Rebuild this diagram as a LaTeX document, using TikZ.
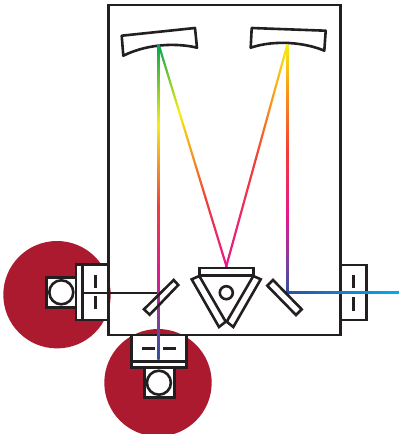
\documentclass[tikz,border=0pt]{standalone}
\definecolor{ink}{HTML}{231F20}
\definecolor{lampred}{HTML}{AC1A2F}
\pgfdeclareverticalshading{rayA}{2.2pt}{
  rgb(0pt)=(0.18,0.31,0.64); rgb(39pt)=(0.5,0.25,0.6); rgb(89pt)=(0.9,0.09,0.55);
  rgb(154pt)=(0.94,0.25,0.21); rgb(234pt)=(0.97,0.93,0.07); rgb(315pt)=(0,0.65,0.32)}
\pgfdeclareverticalshading{rayB}{2.2pt}{
  rgb(0pt)=(0.9,0.09,0.55); rgb(73pt)=(0.94,0.25,0.21);
  rgb(163pt)=(0.97,0.93,0.07); rgb(234pt)=(0,0.65,0.32)}
\pgfdeclareverticalshading{rayC}{2.2pt}{
  rgb(0pt)=(0.9,0.09,0.55); rgb(112pt)=(0.94,0.25,0.21); rgb(170pt)=(0.97,0.58,0.11);
  rgb(232pt)=(0.97,0.93,0.07)}
\pgfdeclareverticalshading{rayD}{2.2pt}{
  rgb(0pt)=(0.18,0.31,0.64); rgb(31pt)=(0.5,0.25,0.6); rgb(78pt)=(0.9,0.09,0.55);
  rgb(143pt)=(0.94,0.25,0.21); rgb(200pt)=(0.97,0.58,0.11); rgb(249pt)=(0.97,0.93,0.07)}
\pgfdeclareverticalshading{rayE}{2.2pt}{
  rgb(0pt)=(0,0.68,0.94); rgb(112pt)=(0.18,0.31,0.64)}
\tikzset{
  part/.style={draw=ink,line width=2.6pt,line join=miter},
  boxpart/.style={part,fill=white},
  slit/.style={draw=ink,line width=2.6pt},
  lamp/.style={fill=lampred},
  ray/.style={inner sep=0pt,outer sep=0pt,anchor=north}
}
\begin{document}
\begin{tikzpicture}[x=1pt,y=-1pt]
\useasboundingbox (0,0) rectangle (399,434);
\clip (0,0) rectangle (399,434);
% lamps
\fill[lamp] (57,294.7) circle (53.7);
\fill[lamp] (158,382.7) circle (53.7);
% housing
\draw[part] (108.5,5) rectangle (340.7,335);
% mirrors
\draw[part,line join=round] (121.7,35.7) -- (195,28) -- (197,47.7) .. controls (180,43.5) and (150,42.5) .. (123.3,55.7) -- cycle;
\draw[part,line join=round] (251.7,28) -- (325.7,30.7) -- (324.3,50.7) .. controls (305,42.5) and (275,39.5) .. (250.7,47.7) -- cycle;
% left entrance
\draw[boxpart] (76,264.5) rectangle (108,320);
\draw[part] (82.7,264.5) -- (82.7,320);
\draw[slit] (95.7,275.3) -- (95.7,288.3);
\draw[slit] (95.7,296) -- (95.7,309.3);
\draw[boxpart] (46.5,277.5) rectangle (76,307.3);
\draw[part] (61.3,292.3) circle (12);
% bottom entrance
\draw[boxpart] (131.5,335) rectangle (186.7,367.7);
\draw[part] (131.5,361.3) -- (186.7,361.3);
\draw[slit] (142,348.3) -- (155,348.3);
\draw[slit] (163.3,348.3) -- (176,348.3);
\draw[boxpart] (144.3,367.7) rectangle (174.3,397.5);
\draw[part] (158.9,382.7) circle (12);
% right exit
\draw[boxpart] (341,265) rectangle (366.5,320);
\draw[slit] (353.7,275) -- (353.7,288);
\draw[slit] (353.7,297.3) -- (353.7,310.7);
% beam from left lamp
\draw[draw=ink,line width=2.2pt] (82.7,292.6) -- (158,292.6);
% rays
\node[ray] (r1) at (158.5,44) {\pgfuseshading{rayA}};
\node[ray,rotate=17] (r2) at (158.5,44) {\pgfuseshading{rayB}};
\node[ray,rotate=-15.4] (r3) at (287.5,44) {\pgfuseshading{rayC}};
\node[ray] (r4) at (287.5,44) {\pgfuseshading{rayD}};
\node[ray,rotate=90] (r5) at (287.5,292.7) {\pgfuseshading{rayE}};
% fold mirrors
\draw[part] (144,309.3) -- (173.7,280) -- (178.3,285) -- (149.7,314.7) -- cycle;
\draw[part] (267.3,285.7) -- (273,280) -- (301.7,309.3) -- (296,315) -- cycle;
% prism
\draw[part] (199.3,268) rectangle (253.3,275.5);
\draw[part] (191.7,279.3) -- (199.3,276) -- (225.7,321.7) -- (219,327) -- cycle;
\draw[part] (260.7,279.3) -- (253.3,276) -- (226.7,321.7) -- (233.3,327) -- cycle;
\draw[part] (226.3,292.7) circle (6.5);
\end{tikzpicture}
\end{document}
